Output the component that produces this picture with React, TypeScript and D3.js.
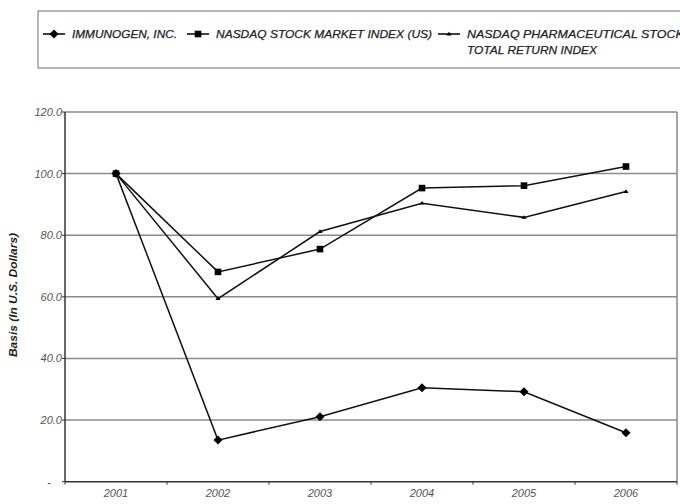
import React from "react";
import * as d3 from "d3";

const years = ["2001", "2002", "2003", "2004", "2005", "2006"];
const immunogen = [100, 13.5, 21.1, 30.5, 29.2, 15.9];
const nasdaq = [100, 68.1, 75.5, 95.3, 96.1, 102.3];
const pharma = [100, 59.4, 81.2, 90.4, 85.8, 94.2];
const yTicks = [0, 20, 40, 60, 80, 100, 120];
const seriesNames = ["IMMUNOGEN, INC.", "NASDAQ STOCK MARKET INDEX (US)", "NASDAQ PHARMACEUTICAL STOCKS"];
const legendSecondLine = "TOTAL RETURN INDEX";
const yLabel = "Basis (In U.S. Dollars)";

const W = 680, H = 504;
const left = 65, right = 677, top = 112, bottom = 481.7;
const font = "'Liberation Sans', Arial, sans-serif";

function Marker({ kind, x, y }: { kind: string; x: number; y: number }) {
  if (kind === "diamond") {
    const s = 4.5;
    return <path d={`M${x},${y - s}L${x + s},${y}L${x},${y + s}L${x - s},${y}Z`} fill="#000" />;
  }
  if (kind === "square") {
    return <rect x={x - 3.3} y={y - 3.3} width={6.6} height={6.6} fill="#000" />;
  }
  const s = 2.6;
  return <path d={`M${x - s},${y + 1.4}L${x + s},${y + 1.4}L${x},${y - 2.2}Z`} fill="#000" />;
}

export default function App() {
  const x = d3.scaleBand<string>().domain(years).range([left, right]).padding(0);
  const y = d3.scaleLinear().domain([0, 120]).range([bottom, top]);
  const cx = (d: string) => (x(d) as number) + x.bandwidth() / 2;
  const line = d3.line<number>().x((_, i) => cx(years[i])).y((v) => y(v));
  const series = [
    { name: seriesNames[0], data: immunogen, kind: "diamond" },
    { name: seriesNames[1], data: nasdaq, kind: "square" },
    { name: seriesNames[2], data: pharma, kind: "tri" },
  ];
  const legendItems = [
    { x0: 43, tx: 72, tw: 105 },
    { x0: 187, tx: 216, tw: 216 },
    { x0: 438, tx: 467, tw: 225 },
  ];
  const boundaries = years.map((d) => x(d) as number).concat([right]);

  return (
    <svg width={W} height={H} style={{ position: "absolute", left: 0, top: 0, background: "#fff" }}>
      {/* legend box */}
      <rect x={38} y={11} width={660} height={57} fill="#fff" stroke="#888" strokeWidth={1.2} />
      {series.map((s, i) => {
        const it = legendItems[i];
        return (
          <g key={s.name}>
            <line x1={it.x0} x2={it.x0 + 22} y1={34} y2={34} stroke="#000" strokeWidth={1.5} />
            <Marker kind={s.kind} x={it.x0 + 11} y={34} />
            <text x={it.tx} y={38} fontFamily={font} fontStyle="italic" fontSize={11} fill="#222"
              stroke="#222" strokeWidth={0.25}
              textLength={it.tw} lengthAdjust="spacingAndGlyphs">{s.name}</text>
          </g>
        );
      })}
      <text x={467} y={54} fontFamily={font} fontStyle="italic" fontSize={11} fill="#222"
        stroke="#222" strokeWidth={0.25}
        textLength={130} lengthAdjust="spacingAndGlyphs">{legendSecondLine}</text>

      {/* gridlines */}
      {yTicks.filter((t) => t > 0).map((t) => (
        <line key={t} x1={left} x2={right} y1={y(t)} y2={y(t)} stroke="#8a8a8a" strokeWidth={1.5} />
      ))}
      <line x1={right} x2={right} y1={top} y2={bottom} stroke="#8a8a8a" strokeWidth={1.5} />
      {/* axes */}
      <line x1={left} x2={left} y1={top} y2={bottom} stroke="#333" strokeWidth={1.5} />
      <line x1={left} x2={right} y1={bottom} y2={bottom} stroke="#333" strokeWidth={1.5} />
      {boundaries.map((b, i) => (
        <line key={i} x1={b} x2={b} y1={bottom} y2={bottom + 3} stroke="#333" strokeWidth={1} />
      ))}
      {yTicks.map((t) => (
        <line key={"yt" + t} x1={left - 3} x2={left} y1={y(t)} y2={y(t)} stroke="#333" strokeWidth={1} />
      ))}
      {yTicks.map((t) => (
        <text key={"yl" + t} x={t === 0 ? 51 : 62} y={y(t) + 4} textAnchor="end" fontFamily={font}
          fontStyle="italic" fontSize={11} fill="#555">{t === 0 ? "-" : d3.format(".1f")(t)}</text>
      ))}
      {years.map((d) => (
        <text key={d} x={cx(d)} y={497} textAnchor="middle" fontFamily={font} fontStyle="italic"
          fontSize={11} fill="#555">{d}</text>
      ))}
      <text transform={`translate(17,${295}) rotate(-90)`} textAnchor="middle"
        fontFamily={font} fontStyle="italic" fontWeight="bold" fontSize={11} fill="#222"
        textLength={124} lengthAdjust="spacingAndGlyphs">{yLabel}</text>

      {/* series */}
      {series.map((s) => (
        <g key={s.name}>
          <path d={line(s.data) as string} fill="none" stroke="#111" strokeWidth={1.5} />
          {s.data.map((v, i) => (
            <Marker key={i} kind={s.kind} x={cx(years[i])} y={y(v)} />
          ))}
        </g>
      ))}
    </svg>
  );
}
